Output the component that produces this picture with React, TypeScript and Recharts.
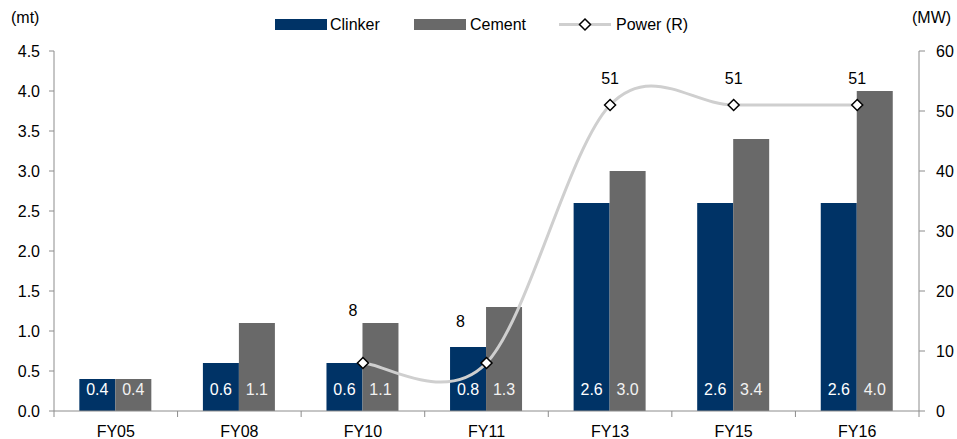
import React from 'react';
import { ComposedChart, Bar, Line, XAxis, YAxis, LabelList } from 'recharts';

const categories = ['FY05', 'FY08', 'FY10', 'FY11', 'FY13', 'FY15', 'FY16'];
const clinker = [0.4, 0.6, 0.6, 0.8, 2.6, 2.6, 2.6];
const cement = [0.4, 1.1, 1.1, 1.3, 3.0, 3.4, 4.0];
const power: (number | null)[] = [null, null, 8, 8, 51, 51, 51];
const leftTicks = [0, 0.5, 1.0, 1.5, 2.0, 2.5, 3.0, 3.5, 4.0, 4.5];
const rightTicks = [0, 10, 20, 30, 40, 50, 60];

const data = categories.map((c, i) => ({
  name: c,
  clinker: clinker[i],
  cement: cement[i],
  power: power[i],
}));

const FONT = '"Liberation Sans", Arial, sans-serif';
const AXIS = '#8c8c8c';
const NAVY = '#003366';
const GREY = '#696969';
const LINE = '#cfcfcf';

// Excel-like smooth curve (Catmull-Rom style bezier)
const excelCurve = (context: any) => {
  let pts: [number, number][] = [];
  return {
    areaStart() {},
    areaEnd() {},
    lineStart() { pts = []; },
    point(x: number, y: number) { pts.push([+x, +y]); },
    lineEnd() {
      const n = pts.length;
      if (!n) return;
      context.moveTo(pts[0][0], pts[0][1]);
      for (let i = 0; i < n - 1; i++) {
        const p0 = pts[Math.max(0, i - 1)];
        const p1 = pts[i];
        const p2 = pts[i + 1];
        const p3 = pts[Math.min(n - 1, i + 2)];
        context.bezierCurveTo(
          p1[0] + (p2[0] - p0[0]) / 6, p1[1] + (p2[1] - p0[1]) / 6,
          p2[0] - (p3[0] - p1[0]) / 6, p2[1] - (p3[1] - p1[1]) / 6,
          p2[0], p2[1]
        );
      }
    },
  };
};

const Diamond = (props: any) => {
  const { cx, cy, value } = props;
  if (value == null || cx == null || cy == null) return null;
  const s = 5.5;
  return (
    <path
      d={`M${cx},${cy - s}L${cx + s},${cy}L${cx},${cy + s}L${cx - s},${cy}Z`}
      fill="#fff"
      stroke="#000"
      strokeWidth={1.5}
    />
  );
};

const labelShift: Record<number, [number, number]> = { 2: [-10, -53], 3: [-26, -42] };

const PowerLabel = (props: any) => {
  const { x, y, value, index } = props;
  if (value == null) return null;
  const [dx, dy] = labelShift[index] || [0, -27];
  return (
    <text x={x + dx} y={y + dy + 6} textAnchor="middle" fontFamily={FONT} fontSize={16} fill="#000">
      {value}
    </text>
  );
};

const BarLabel = (color: string) => (props: any) => {
  const { x, y, width, height, value } = props;
  return (
    <text x={x + width / 2} y={y + height - 16} textAnchor="middle" fontFamily={FONT} fontSize={16} fill={color}>
      {Number(value).toFixed(1)}
    </text>
  );
};

const XTick = (props: any) => {
  const { x, y, payload, index } = props;
  const off = payload.offset || 0;
  return (
    <g>
      <line x1={x - off} x2={x - off} y1={y} y2={y + 6} stroke={AXIS} strokeWidth={1} />
      {index === categories.length - 1 && (
        <line x1={x + off} x2={x + off} y1={y} y2={y + 6} stroke={AXIS} strokeWidth={1} />
      )}
      <text x={x} y={y + 26} textAnchor="middle" fontFamily={FONT} fontSize={16} fill="#000">
        {payload.value}
      </text>
    </g>
  );
};

const LegendBox = () => (
  <svg width={440} height={24} style={{ position: 'absolute', left: 275, top: 13, display: 'block' }}>
    <rect x={0} y={6} width={52} height={11} fill={NAVY} />
    <text x={55} y={17} fontFamily={FONT} fontSize={16} fill="#000">Clinker</text>
    <rect x={139} y={6} width={52} height={11} fill={GREY} />
    <text x={195} y={17} fontFamily={FONT} fontSize={16} fill="#000">Cement</text>
    <line x1={284} x2={336} y1={11.5} y2={11.5} stroke={LINE} strokeWidth={3} />
    <path d="M310,6L315.5,11.5L310,17L304.5,11.5Z" fill="#fff" stroke="#000" strokeWidth={1.5} />
    <text x={341} y={17} fontFamily={FONT} fontSize={16} fill="#000">Power (R)</text>
  </svg>
);

export default function App() {
  return (
    <div style={{ position: 'absolute', left: 0, top: 0, width: 957, height: 439, background: '#fff' }}>
      <ComposedChart
        width={957}
        height={439}
        data={data}
        margin={{ top: 51, right: 0, bottom: 0, left: 0 }}
        barCategoryGap="20.5%"
        barGap={0}
      >
        <XAxis
          dataKey="name"
          xAxisId="x"
          height={28}
          axisLine={{ stroke: AXIS }}
          tickLine={false}
          tickSize={0}
          tickMargin={0}
          tick={<XTick />}
          interval={0}
        />
        <YAxis
          yAxisId="left"
          orientation="left"
          width={54}
          domain={[0, 4.5]}
          ticks={leftTicks}
          tickFormatter={(v: number) => v.toFixed(1)}
          axisLine={{ stroke: AXIS }}
          tickLine={{ stroke: AXIS }}
          tickSize={5}
          tickMargin={9}
          tick={{ fontFamily: FONT, fontSize: 16, fill: '#000' }}
          interval={0}
        />
        <YAxis
          yAxisId="right"
          orientation="right"
          width={38}
          domain={[0, 60]}
          ticks={rightTicks}
          axisLine={{ stroke: AXIS }}
          tickLine={{ stroke: AXIS }}
          tickSize={6}
          tickMargin={11}
          tick={{ fontFamily: FONT, fontSize: 16, fill: '#000', textAnchor: 'start' }}
          interval={0}
        />
        <Bar dataKey="clinker" xAxisId="x" yAxisId="left" fill={NAVY} isAnimationActive={false}>
          <LabelList dataKey="clinker" content={BarLabel('#ffffff')} />
        </Bar>
        <Bar dataKey="cement" xAxisId="x" yAxisId="left" fill={GREY} isAnimationActive={false}>
          <LabelList dataKey="cement" content={BarLabel('#f2f2f2')} />
        </Bar>
        <Line
          dataKey="power"
          xAxisId="x"
          yAxisId="right"
          type={excelCurve as any}
          stroke={LINE}
          strokeWidth={3}
          dot={<Diamond />}
          activeDot={false}
          connectNulls
          isAnimationActive={false}
        >
          <LabelList dataKey="power" content={PowerLabel} />
        </Line>
      </ComposedChart>
      <LegendBox />
      <div style={{ position: 'absolute', left: 11, top: 9, fontFamily: FONT, fontSize: 16 }}>(mt)</div>
      <div style={{ position: 'absolute', left: 912, top: 9, fontFamily: FONT, fontSize: 16 }}>(MW)</div>
    </div>
  );
}
